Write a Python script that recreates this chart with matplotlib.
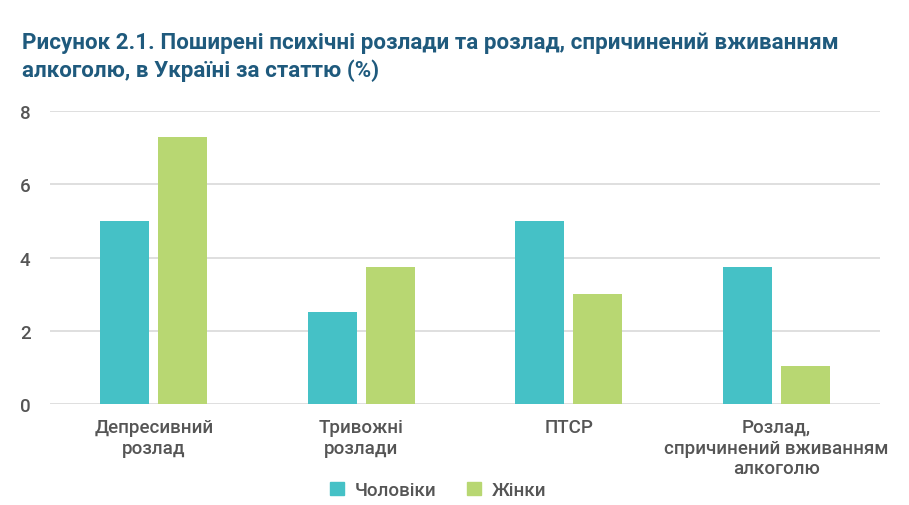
import matplotlib
matplotlib.use("Agg")
import matplotlib.pyplot as plt
import numpy as np
from matplotlib.patches import Patch

plt.rcParams['font.family'] = ['Roboto', 'DejaVu Sans']

categories = ["Депресивний\nрозлад", "Тривожні\nрозлади", "ПТСР",
              "Розлад,\nспричинений вживанням\nалкоголю"]
men = [5.0, 2.5, 5.0, 3.75]
women = [7.3, 3.75, 3.0, 1.05]
series_names = ["Чоловіки", "Жінки"]
yticks = [0, 2, 4, 6, 8]
title = ("Рисунок 2.1. Поширені психічні розлади та розлад, спричинений вживанням\n"
         "алкоголю, в Україні за статтю (%)")

c_men = "#45C1C6"
c_women = "#B8D772"
txt = "#555555"

fig = plt.figure(figsize=(9.09, 5.06), dpi=100)
ax = fig.add_axes([50/909, 1 - 405/506, 830/909, 293/506])

x = np.arange(len(categories))
w = 0.236
gap = 0.043
ax.bar(x - (w + gap)/2, men, width=w, color=c_men, zorder=3)
ax.bar(x + (w + gap)/2, women, width=w, color=c_women, zorder=3)

ax.set_xlim(-0.5, len(categories) - 0.5)
ax.set_ylim(0, 8)
ax.set_yticks(yticks)
ax.set_yticklabels([str(t) for t in yticks], fontsize=13.5, color=txt, fontweight='medium')
ax.set_xticks(x)
ax.set_xticklabels(categories, fontsize=13.5, color=txt, linespacing=1.2, fontweight='medium')
ax.tick_params(axis='both', length=0)
ax.tick_params(axis='y', pad=14)
ax.tick_params(axis='x', pad=10)
ax.grid(axis='y', color='#d9d9d9', linewidth=1.2, zorder=0)
for s in ax.spines.values():
    s.set_visible(False)

fig.text(22/909, 1 - 32/506, title, fontsize=16.1, fontweight='bold',
         color='#1F5A7D', va='top', ha='left', linespacing=1.3)

handles = [Patch(color=c_men), Patch(color=c_women)]
fig.legend(handles, series_names, loc='center', bbox_to_anchor=(438/909, 1 - 491/506),
           ncol=2, frameon=False, handlelength=0.75, handleheight=0.75,
           handletextpad=0.6, columnspacing=1.6, labelcolor=txt,
           prop={'weight': 'medium', 'size': 13.5})

fig.savefig("out.png", dpi=100, facecolor='white')
